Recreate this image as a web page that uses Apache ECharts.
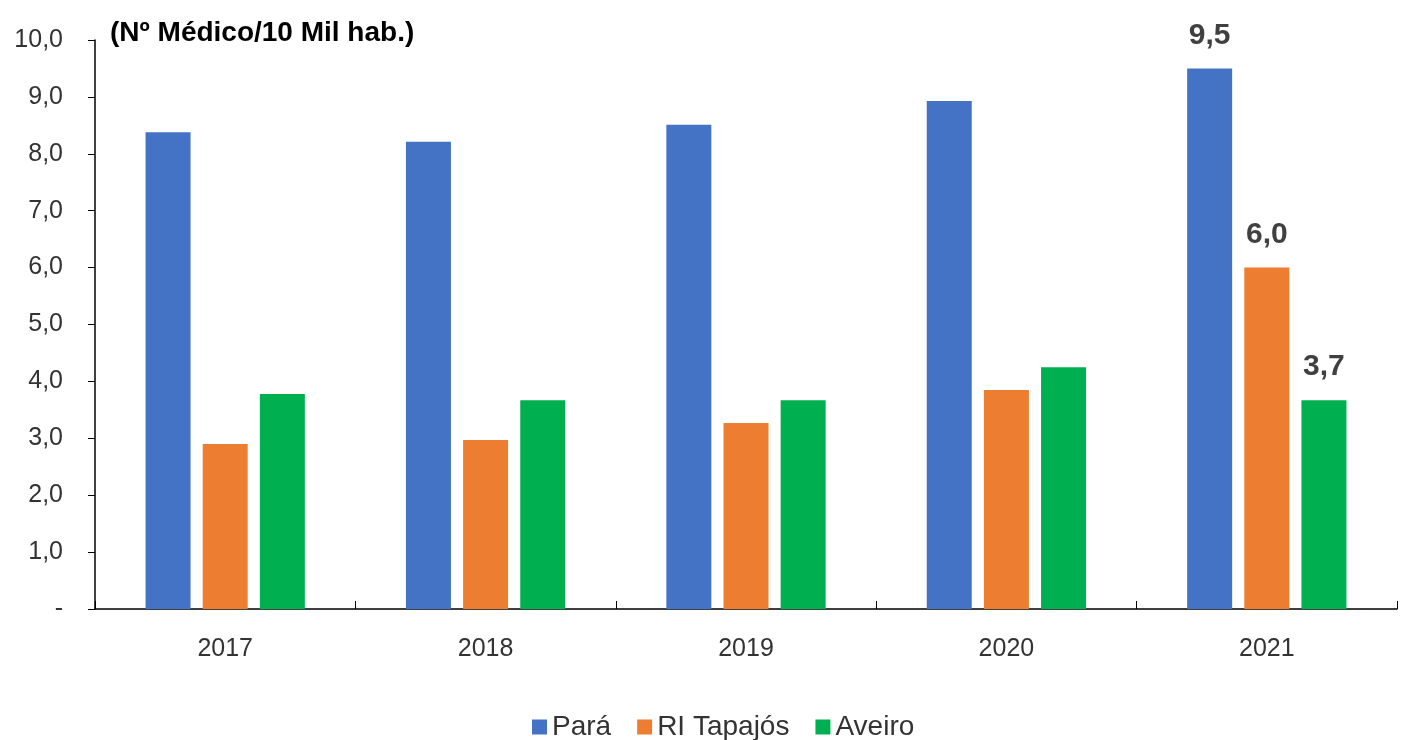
<!DOCTYPE html>
<html>
<head>
<meta charset="utf-8">
<script src="https://cdn.jsdelivr.net/npm/echarts@6/dist/echarts.min.js"></script>
<style>
html,body{margin:0;padding:0;background:#fff;}
#chart{width:1403px;height:740px;}
</style>
</head>
<body>
<div id="chart"></div>
<script>
const categories = ['2017', '2018', '2019', '2020', '2021'];
const seriesNames = ['Pará', 'RI Tapajós', 'Aveiro'];
const para = [8.38, 8.21, 8.51, 8.93, 9.5];
const tapajos = [2.90, 2.97, 3.27, 3.85, 6.0];
const aveiro = [3.78, 3.67, 3.67, 4.25, 3.67];
const yTicks = [0, 1, 2, 3, 4, 5, 6, 7, 8, 9, 10];
const titleText = '(Nº Médico/10 Mil hab.)';
const labeledIndex = 4;

const colors = ['#4472C4', '#ED7D31', '#00B050'];
const fmt = v => v === 0 ? '-' : v.toFixed(1).replace('.', ',');

function mk(name, values, color) {
  return {
    name: name,
    type: 'bar',
    barWidth: 45,
    barGap: '27%',
    itemStyle: { color: color },
    data: values.map((v, i) => ({
      value: v,
      label: {
        show: i === labeledIndex,
        position: 'top',
        distance: 18,
        formatter: p => fmt(p.value),
        fontFamily: 'Liberation Sans, Arial, sans-serif',
        fontWeight: 'bold',
        fontSize: 30,
        color: '#404040'
      }
    }))
  };
}

const chart = echarts.init(document.getElementById('chart'));
chart.setOption({
  animation: false,
  color: colors,
  title: {
    text: titleText,
    left: 105,
    top: 14,
    textStyle: { fontFamily: 'Liberation Sans, Arial, sans-serif', fontWeight: 'bold', fontSize: 28, color: '#000' }
  },
  grid: { left: 95, right: 6, top: 40, bottom: 131, containLabel: false },
  legend: {
    top: 708,
    left: 527,
    itemWidth: 15,
    itemHeight: 15,
    itemGap: 26,
    icon: 'rect',
    textStyle: { fontFamily: 'Liberation Sans, Arial, sans-serif', fontSize: 28, color: '#333' },
    data: seriesNames
  },
  xAxis: {
    type: 'category',
    data: categories,
    axisLine: { lineStyle: { color: '#000', width: 1.5 } },
    axisTick: { show: true, inside: true, length: 8, lineStyle: { color: '#000' } },
    axisLabel: { margin: 28, fontFamily: 'Liberation Sans, Arial, sans-serif', fontSize: 25, color: '#333' }
  },
  yAxis: {
    type: 'value',
    min: yTicks[0],
    max: yTicks[yTicks.length - 1],
    interval: 1,
    splitLine: { show: false },
    axisLine: { show: true, lineStyle: { color: '#000', width: 1.5 } },
    axisTick: { show: true, length: 7, lineStyle: { color: '#000' } },
    axisLabel: { margin: 32, fontFamily: 'Liberation Sans, Arial, sans-serif', fontSize: 25, color: '#333', formatter: v => fmt(v) }
  },
  series: [
    mk(seriesNames[0], para, colors[0]),
    mk(seriesNames[1], tapajos, colors[1]),
    mk(seriesNames[2], aveiro, colors[2])
  ]
});
</script>
</body>
</html>
